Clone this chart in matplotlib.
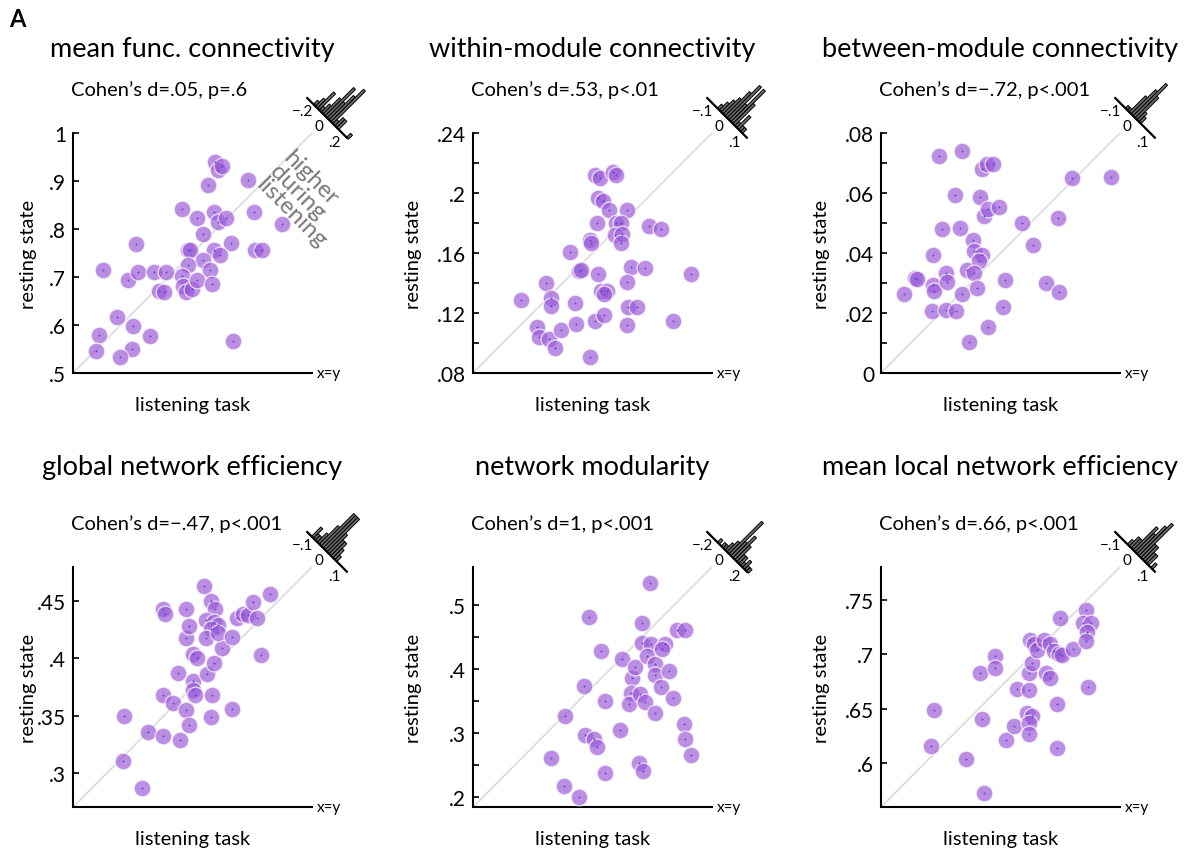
import numpy as np
import matplotlib.pyplot as plt
from matplotlib.patches import Rectangle
from matplotlib.transforms import Affine2D, ScaledTranslation

plt.rcParams['font.family'] = ['Lato', 'DejaVu Sans']

W, H = 1192, 854

# ---- data (listening task vs resting state) ----
mfc_listen = [.563, .615, .632, .637, .669, .695, .679, .690, .728, .760, .782, .798, .803, .811,
              .866, .796, .803, .821, .772, .831, .879, .938, .880, .896, .741, .744, .796, .808,
              .771, .741, .787, .729, .731, .737, .748, .759, .791, .593, .626, .554, .662, .549,
              .624, .598, .835]
mfc_rest = [.714, .693, .769, .711, .710, .711, .671, .669, .842, .822, .891, .940, .922, .932,
            .902, .835, .814, .823, .790, .770, .836, .810, .756, .756, .756, .757, .756, .745,
            .736, .726, .714, .702, .681, .668, .675, .693, .685, .616, .598, .579, .578, .545,
            .551, .534, .566]

wmc_listen = [.112, .129, .132, .132, .145, .148, .151, .152, .123, .124, .131, .135, .139, .149,
              .158, .162, .168, .164, .166, .170, .168, .162, .165, .174, .176, .164, .167, .171,
              .183, .163, .176, .179, .158, .159, .175, .180, .179, .198, .206, .186, .195, .183,
              .184, .190, .183, .214, .226]
wmc_rest = [.129, .140, .130, .125, .161, .127, .148, .149, .111, .104, .103, .097, .109, .113,
            .091, .115, .119, .146, .135, .135, .133, .212, .210, .214, .212, .197, .195, .189,
            .189, .180, .180, .180, .169, .167, .172, .173, .167, .178, .176, .151, .150, .141,
            .124, .124, .112, .115, .146]

bmc_listen = [.0078, .0114, .0122, .0175, .0175, .0179, .0171, .0193, .0203, .0218, .0220, .0218,
              .0251, .0248, .0270, .0264, .0271, .0287, .0309, .0311, .0337, .0329, .0311, .0320,
              .0296, .0331, .0337, .0354, .0374, .0346, .0357, .0396, .0357, .0407, .0414, .0471,
              .0508, .0552, .0597, .0594, .0638, .0769]
bmc_rest = [.0264, .0318, .0315, .0395, .0292, .0272, .0208, .0725, .0481, .0334, .0304, .0210,
            .0206, .0595, .0741, .0482, .0262, .0345, .0443, .0407, .0395, .0374, .0335, .0283,
            .0102, .0586, .0681, .0696, .0697, .0523, .0546, .0555, .0152, .0220, .0309, .0499,
            .0428, .0300, .0270, .0518, .0649, .0655]

gne_listen = [.315, .314, .331, .336, .349, .364, .349, .358, .362, .369, .372, .375, .375, .377,
              .388, .392, .391, .410, .394, .375, .379, .401, .369, .372, .369, .349, .351, .385,
              .391, .395, .387, .394, .397, .391, .387, .397, .410, .414, .419, .424, .428, .432,
              .435, .443]
gne_rest = [.350, .310, .287, .336, .332, .329, .368, .361, .387, .355, .342, .380, .372, .368,
            .386, .368, .349, .356, .396, .404, .400, .409, .418, .428, .443, .443, .439, .463,
            .450, .443, .434, .432, .429, .426, .418, .422, .419, .435, .439, .438, .449, .435,
            .403, .456]

mod_listen = [.307, .328, .352, .329, .359, .367, .361, .375, .379, .392, .386, .392, .416, .419,
              .434, .439, .433, .430, .447, .455, .446, .452, .450, .463, .450, .465, .458, .471,
              .471, .487, .481, .492, .470, .480, .499, .505, .518, .516, .518, .527]
mod_rest = [.261, .218, .200, .327, .374, .482, .297, .291, .279, .238, .428, .351, .305, .417,
            .387, .403, .363, .346, .361, .349, .254, .242, .472, .535, .442, .439, .421, .408,
            .392, .439, .432, .397, .332, .373, .355, .461, .461, .314, .291, .266]

lne_listen = [.609, .606, .638, .655, .653, .651, .665, .665, .675, .682, .685, .696, .696, .699,
              .694, .699, .696, .696, .697, .701, .704, .710, .716, .712, .716, .719, .724, .727,
              .737, .725, .722, .722, .749, .746, .753, .750, .749, .751]
lne_rest = [.649, .616, .604, .573, .641, .683, .698, .687, .621, .634, .668, .667, .683, .692,
            .646, .643, .637, .627, .713, .709, .704, .713, .709, .683, .678, .703, .700, .699,
            .705, .733, .654, .614, .741, .729, .729, .720, .712, .670]

titles = ['mean func. connectivity', 'within-module connectivity', 'between-module connectivity',
          'global network efficiency', 'network modularity', 'mean local network efficiency']
stats = ['Cohen\u2019s d=.05, p=.6', 'Cohen\u2019s d=.53, p<.01', 'Cohen\u2019s d=\u2212.72, p<.001',
         'Cohen\u2019s d=\u2212.47, p<.001', 'Cohen\u2019s d=1, p<.001', 'Cohen\u2019s d=.66, p<.001']
listen = [mfc_listen, wmc_listen, bmc_listen, gne_listen, mod_listen, lne_listen]
rest = [mfc_rest, wmc_rest, bmc_rest, gne_rest, mod_rest, lne_rest]
limits = [(.5, 1.0), (.08, .24), (0, .08), (.27, .48), (.185, .56), (.56, .78)]
yticks = [[.5, .6, .7, .8, .9, 1.0],
          [.08, .10, .12, .14, .16, .18, .20, .22, .24],
          [0, .01, .02, .03, .04, .05, .06, .07, .08],
          [.3, .35, .4, .45],
          [.2, .25, .3, .35, .4, .45, .5],
          [.6, .65, .7, .75]]
ylabels = [['.5', '.6', '.7', '.8', '.9', '1'],
           ['.08', '', '.12', '', '.16', '', '.2', '', '.24'],
           ['0', '', '.02', '', '.04', '', '.06', '', '.08'],
           ['.3', '.35', '.4', '.45'],
           ['.2', '', '.3', '', '.4', '', '.5'],
           ['.6', '.65', '.7', '.75']]
hist_r = [.2, .1, .1, .1, .2, .1]
hist_labels = [['\u2212.2', '0', '.2'], ['\u2212.1', '0', '.1'], ['\u2212.1', '0', '.1'],
               ['\u2212.1', '0', '.1'], ['\u2212.2', '0', '.2'], ['\u2212.1', '0', '.1']]

# ---- layout (pixels) ----
col_left = [73, 473, 881]
row_bottom = [H - 374, H - 808]
AX_W, AX_H = 239, 240
title_y = [1.353, 1.418]
ylab_x = [-0.15, -0.215, -0.215]

PURPLE = '#9B59D8'

fig = plt.figure(figsize=(W / 100, H / 100), dpi=100)
fig.text(0.008, 0.977, 'A', fontsize=17, fontweight='bold', va='center')

for i in range(6):
    row, col = divmod(i, 3)
    ax = fig.add_axes([col_left[col] / W, row_bottom[row] / H, AX_W / W, AX_H / H])
    lo, hi = limits[i]
    x = np.array(listen[i])
    y = np.array(rest[i])

    ax.plot([lo, hi], [lo, hi], color='#dddddd', lw=1.3, zorder=1)
    ax.scatter(x, y, s=145, c=PURPLE, alpha=0.68, edgecolors='white', linewidths=1.0, zorder=3)
    ax.scatter(x, y, s=2, c='#5050d0', linewidths=0, zorder=4)

    ax.set_xlim(lo, hi)
    ax.set_ylim(lo, hi)
    for s in ['top', 'right']:
        ax.spines[s].set_visible(False)
    for s in ['left', 'bottom']:
        ax.spines[s].set_linewidth(1.5)
    ax.set_xticks([])
    ax.set_yticks(yticks[i])
    ax.set_yticklabels(ylabels[i])
    ax.tick_params(axis='y', direction='in', length=4, width=1.2, labelsize=15, pad=5)

    ax.set_xlabel('listening task', fontsize=14.5)
    ax.xaxis.set_label_coords(0.5, -0.095)
    ax.set_ylabel('resting state', fontsize=14.5)
    ax.yaxis.set_label_coords(ylab_x[col], 0.5)

    ax.text(1.02, 0, 'x=y', transform=ax.transAxes, fontsize=11, va='center', ha='left')
    ax.text(0.5, title_y[row], titles[i], transform=ax.transAxes, fontsize=19.5,
            ha='center', va='center')
    ax.text(-0.01, 1.185, stats[i], transform=ax.transAxes, fontsize=14.5,
            ha='left', va='center')

    # rotated histogram of listening - rest differences, zero on the x=y line
    r = hist_r[i]
    us = 22.0 / r
    diff = x - y
    counts, edges = np.histogram(diff, bins=np.arange(-3 * r, 3 * r + 1e-9, r / 8))
    vs = 46.0 / counts.max()
    t_px = Affine2D().rotate_deg(-45) + ScaledTranslation(1.063, 1.063, ax.transAxes)
    t_dat = Affine2D().scale(us, vs) + t_px
    for c, e in zip(counts, edges[:-1]):
        if c > 0:
            ax.add_artist(Rectangle((e, 0), r / 8, c, transform=t_dat, facecolor='#6e6e6e',
                                    edgecolor='black', linewidth=0.7, clip_on=False))
    ax.plot([-28, 28], [0, 0], color='black', lw=1.6, transform=t_px, clip_on=False)
    for u, lab in zip([-22, 0, 22], hist_labels[i]):
        ax.text(u, -12, lab, transform=t_px, fontsize=11, ha='center', va='center')
    ax.set_xlim(lo, hi)
    ax.set_ylim(lo, hi)

    if i == 0:
        ax.text(0.925, 0.945, 'higher\nduring\nlistening', transform=ax.transAxes, fontsize=17.5,
                color='#7a7a7a', rotation=-45, rotation_mode='anchor', ha='left', va='top',
                linespacing=0.9)

fig.savefig('out.png', dpi=100)
